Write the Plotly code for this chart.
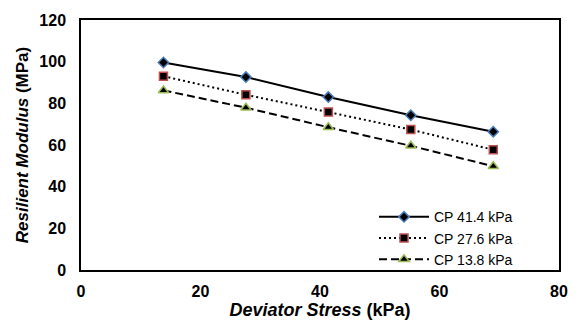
import plotly.graph_objects as go

x_vals = [13.8, 27.6, 41.4, 55.2, 69.0]
cp_414 = [99.6, 92.6, 83.0, 74.3, 66.4]
cp_276 = [93.0, 84.1, 75.8, 67.4, 57.7]
cp_138 = [86.2, 77.9, 68.5, 59.6, 49.8]
names = ["CP 41.4 kPa", "CP 27.6 kPa", "CP 13.8 kPa"]
x_ticks = [0, 20, 40, 60, 80]
y_ticks = [0, 20, 40, 60, 80, 100, 120]

FONT = "Liberation Sans, Arial, sans-serif"

fig = go.Figure()
fig.add_trace(go.Scatter(
    x=x_vals, y=cp_414, name=names[0], mode="lines+markers",
    line=dict(color="black", width=2, dash="solid"),
    marker=dict(symbol="diamond", size=8, color="black",
                line=dict(color="#4a7ebb", width=1.5))))
fig.add_trace(go.Scatter(
    x=x_vals, y=cp_276, name=names[1], mode="lines+markers",
    line=dict(color="black", width=2, dash="2px,3px"),
    marker=dict(symbol="square", size=8, color="black",
                line=dict(color="#c0504d", width=1.5))))
fig.add_trace(go.Scatter(
    x=x_vals, y=cp_138, name=names[2], mode="lines+markers",
    line=dict(color="black", width=2, dash="8px,4px"),
    marker=dict(symbol="triangle-up", size=9, color="black",
                line=dict(color="#9bbb59", width=1.5))))

fig.update_layout(
    width=580, height=327,
    margin=dict(l=81, r=19, t=17, b=57),
    paper_bgcolor="white", plot_bgcolor="white",
    font=dict(family=FONT, color="black"),
    showlegend=True,
    legend=dict(x=0.613, y=0.275, xanchor="left", yanchor="top",
                bgcolor="rgba(0,0,0,0)", font=dict(size=14, family=FONT),
                tracegroupgap=0, itemwidth=50),
    xaxis=dict(range=[0, 80], tickvals=x_ticks,
               ticktext=[f"<b>{v}</b>" for v in x_ticks],
               showgrid=False, zeroline=False,
               showline=True, mirror=True, linecolor="black", linewidth=1.5,
               ticks="", ticklabelstandoff=6,
               tickfont=dict(size=16, family=FONT),
               title=dict(text="<b><i>Deviator Stress</i> (kPa)</b>",
                          font=dict(size=18, family=FONT), standoff=2)),
    yaxis=dict(range=[0, 120], tickvals=y_ticks,
               ticktext=[f"<b>{v}</b>" for v in y_ticks],
               showgrid=False, zeroline=False,
               showline=True, mirror=True, linecolor="black", linewidth=1.5,
               ticks="", ticklabelstandoff=10,
               tickfont=dict(size=16, family=FONT),
               title=dict(text="<b><i>Resilient Modulus</i> (MPa)</b>",
                          font=dict(size=17, family=FONT), standoff=6)),
)

fig.write_html("out.html")
